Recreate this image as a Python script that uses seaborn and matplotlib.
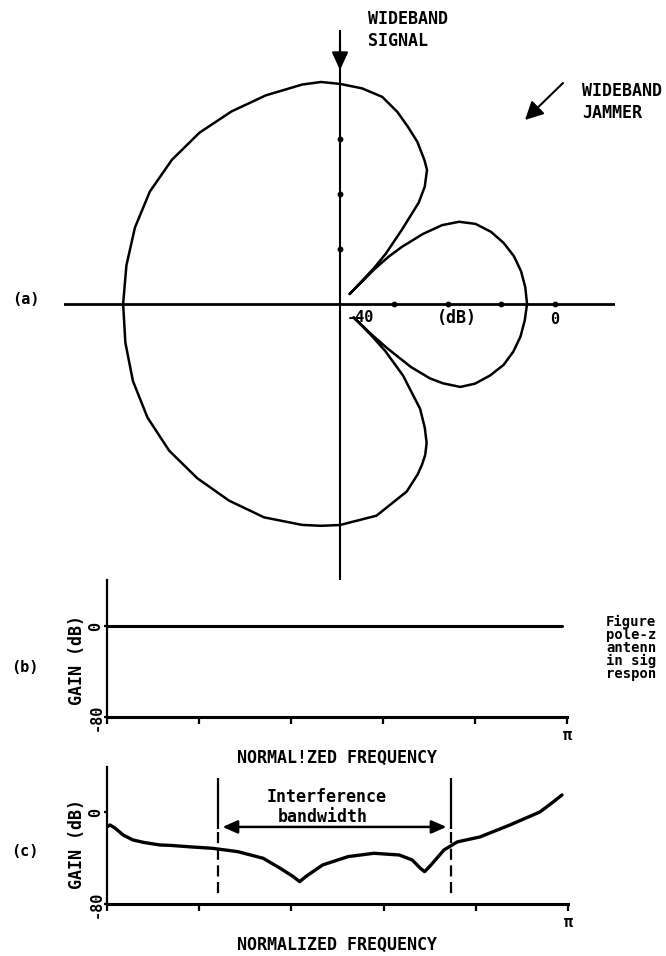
import numpy as np
import pandas as pd
import matplotlib
matplotlib.use("Agg")
import matplotlib.pyplot as plt
import seaborn as sns

# ---------------- data ----------------
# (a) antenna pattern: direction (deg, 0 = right, ccw) and gain (dB)
pattern_angle_deg = [0, 5, 10, 15, 20, 25, 30, 34, 37, 39.5, 42, 43.5, 44.6, 45.2,
                     45.8, 47, 49.5, 51.5, 53.5, 56.4, 59, 64, 68.6, 73, 78.2, 84,
                     90, 95, 100, 110, 120, 130, 140, 150, 160, 170, 180,
                     190, 200, 210, 220, 230, 240, 250, 260, 265, 270, 280, 290,
                     295, 297.5, 300, 302.5, 305, 308, 312, 314.5, 315.5, 315.8, 316.5,
                     317.5, 319, 321, 323, 326, 330, 335, 340, 345, 350, 355, 360]
pattern_gain_db = [-5.2, -5.4, -5.8, -6.5, -7.6, -9.0, -10.9, -13.3, -16.2, -20.0,
                   -24.5, -27.5, -31.0, -37.5,
                   -31.0, -27.5, -22.3, -16.5, -13.5, -10.75, -9.5, -7.2, -5.4, -3.5,
                   -1.55, -0.6,
                   0.0, 0.5, 0.5, 0.35, 0.4, 0.65, 0.8, 0.85, 0.6, 0.35, 0.35,
                   0.55, 1.0, 1.35, 1.5, 1.35, 1.3, 1.3, 0.8, 0.5, 0.2, -0.9, -3.7,
                   -5.8, -7.0, -8.3, -10.0, -12.5, -15.8, -22.5, -28.0, -32.0, -36.5,
                   -32.0, -28.0, -22.5, -18.5, -16.0, -13.0, -11.0, -9.2, -7.6, -6.6,
                   -5.9, -5.5, -5.2]
polar_floor_db = -40
polar_h_ticks_db = [-30, -20, -10, 0]
polar_v_ticks_db = [-30, -20, -10]

# (b) gain vs normalized frequency (fraction of pi)
freq_b = [0.0, 0.989]
gain_b = [0.0, 0.0]

# (c) gain vs normalized frequency (fraction of pi)
freq_c = [0.0, 0.0065, 0.017, 0.035, 0.056, 0.08, 0.115, 0.136, 0.18, 0.229,
          0.284, 0.339, 0.376, 0.404, 0.418, 0.431, 0.468, 0.523, 0.579, 0.634,
          0.662, 0.680, 0.689, 0.703, 0.731, 0.76, 0.809, 0.874, 0.939, 0.965, 0.987]
gain_c = [-13, -11.3, -13.9, -20, -24.3, -26.5, -28.7, -29, -30.3, -31.6,
          -34.5, -40.3, -49, -56.2, -60.6, -56.2, -46, -38.8, -35.9, -37.4,
          -41.7, -49, -51.9, -46, -33, -26, -21.7, -11.3, 0, 7.8, 14.8]
band_edges = [0.241, 0.746]

freq_ticks = [0, 0.2, 0.4, 0.6, 0.8, 1.0]
freq_ticklabels = ["", "", "", "", "", "π"]
gain_ticks = [0, -80]
gain_ticklabels = ["0", "-80"]

caption_lines = ["Figure", "pole-z", "antenn", "in sig", "respon"]

# ---------------- figure ----------------
W, H = 666, 956
sns.set_style("white")
plt.rcParams["font.family"] = ["DejaVu Sans Mono", "DejaVu Sans"]
plt.rcParams["font.weight"] = "bold"
plt.rcParams["text.color"] = "black"
plt.rcParams["xtick.color"] = "black"
plt.rcParams["ytick.color"] = "black"

fig = plt.figure(figsize=(W / 100, H / 100), dpi=100)
fig.patch.set_facecolor("white")


def fx(px):
    return px / W


def fy(py):
    return 1 - py / H


def ptext(px, py, s, size=12, ha="center", va="center", **kw):
    fig.text(fx(px), fy(py), s, size=size, ha=ha, va=va, weight="bold",
             color="black", **kw)


# ---------- (a) polar pattern ----------
ax_a = fig.add_axes([fx(64), fy(580), (615 - 64) / W, (580 - 30) / H])
ax_a.set_xlim(-51.35, 51.16)
ax_a.set_ylim(-50.2, 49.8)
ax_a.axis("off")

th = np.deg2rad(pattern_angle_deg)
rr = np.array(pattern_gain_db) - polar_floor_db
df_a = pd.DataFrame({"x": rr * np.cos(th), "y": rr * np.sin(th)})
sns.lineplot(data=df_a, x="x", y="y", sort=False, estimator=None,
             color="black", lw=1.8, ax=ax_a)
ax_a.axhline(0, color="black", lw=2.0)
ax_a.axvline(0, color="black", lw=1.5)
h_r = np.array(polar_h_ticks_db) - polar_floor_db
v_r = np.array(polar_v_ticks_db) - polar_floor_db
ax_a.plot(h_r, np.zeros_like(h_r), "o", color="black", ms=3.2)
ax_a.plot(np.zeros_like(v_r), v_r, "o", color="black", ms=3.2)
ax_a.annotate("", xy=(0, 42.5), xytext=(0, 47.5),
              arrowprops=dict(arrowstyle="-|>,head_length=0.55,head_width=0.25",
                              color="black", lw=1.5, mutation_scale=20,
                              shrinkA=0, shrinkB=0))

# jammer arrow
ax_a.annotate("", xy=(fx(525), fy(120)), xytext=(fx(563), fy(83)),
              xycoords="figure fraction", textcoords="figure fraction",
              arrowprops=dict(arrowstyle="-|>,head_length=0.55,head_width=0.28",
                              color="black", lw=1.5, mutation_scale=20,
                              shrinkA=0, shrinkB=0),
              annotation_clip=False)

ptext(368, 19, "WIDEBAND", ha="left")
ptext(368, 41, "SIGNAL", ha="left")
ptext(582, 91, "WIDEBAND", ha="left")
ptext(582, 113, "JAMMER", ha="left")
ptext(26, 300, "(a)", size=11)
ptext(360, 318, "-40", size=11)
ptext(457, 318, "(dB)", size=12)
ptext(555, 319, "0", size=11)


# ---------- (b) and (c) frequency responses ----------
def style_gain_axes(ax, top_db):
    ax.set_xlim(0, np.pi)
    ax.set_ylim(-80, top_db)
    for s in ("top", "right"):
        ax.spines[s].set_visible(False)
    ax.spines["left"].set_linewidth(1.6)
    ax.spines["bottom"].set_linewidth(2.2)
    ax.spines["left"].set_color("black")
    ax.spines["bottom"].set_color("black")
    ax.set_xticks(np.array(freq_ticks) * np.pi)
    ax.set_xticklabels(freq_ticklabels, size=11, weight="bold")
    ax.set_yticks(gain_ticks)
    ax.set_yticklabels(gain_ticklabels, size=11, weight="bold", rotation=90, va="center")
    ax.tick_params(axis="x", direction="out", length=5, width=1.6, pad=3,
                   bottom=True, colors="black")
    ax.tick_params(axis="y", direction="out", length=2, width=1.6, pad=0.5,
                   left=True, colors="black")
    ax.set_xlabel("")
    ax.set_ylabel("")
    ax.set_facecolor("none")


ax_b = fig.add_axes([fx(107), fy(717), (567 - 107) / W, (717 - 580) / H])
sns.lineplot(x=np.array(freq_b) * np.pi, y=gain_b, color="black", lw=2.2, ax=ax_b)
style_gain_axes(ax_b, 40.4)

ax_c = fig.add_axes([fx(107), fy(904), (568 - 107) / W, (904 - 767) / H])
sns.lineplot(x=np.array(freq_c) * np.pi, y=gain_c, color="black", lw=2.4,
             sort=False, estimator=None, ax=ax_c)
style_gain_axes(ax_c, 39.1)

# interference bandwidth markers
for e in band_edges:
    xe = e * np.pi
    ax_c.plot([xe, xe], [29.6, -15.0], color="black", lw=1.6, solid_capstyle="butt")
    ax_c.plot([xe, xe], [-17.5, -75.0], color="black", lw=1.6,
              linestyle=(0, (5, 2.5)))
ax_c.annotate("", xy=(band_edges[0] * np.pi + 0.03, -13),
              xytext=(band_edges[1] * np.pi - 0.03, -13),
              arrowprops=dict(arrowstyle="<|-|>,head_length=0.5,head_width=0.22",
                              color="black", lw=1.8, mutation_scale=18,
                              shrinkA=0, shrinkB=0))
ax_c.text(0.477 * np.pi, 13, "Interference", ha="center", va="center", size=12,
          weight="bold", color="black")
ax_c.text(0.469 * np.pi, -4.3, "bandwidth", ha="center", va="center", size=12,
          weight="bold", color="black")

ptext(25, 667, "(b)", size=11)
ptext(25, 852, "(c)", size=11)
ptext(77, 660, "GAIN (dB)", size=12, rotation=90)
ptext(77, 844, "GAIN (dB)", size=12, rotation=90)
ptext(337, 758, "NORMAL!ZED FREQUENCY", size=12)
ptext(337, 945, "NORMALIZED FREQUENCY", size=12)

# truncated caption at the right edge (one block of text)
ptext(606, 648, "\n".join(caption_lines), size=10, ha="left", va="center",
      linespacing=0.9)

fig.savefig("out.png", dpi=100, facecolor="white")
